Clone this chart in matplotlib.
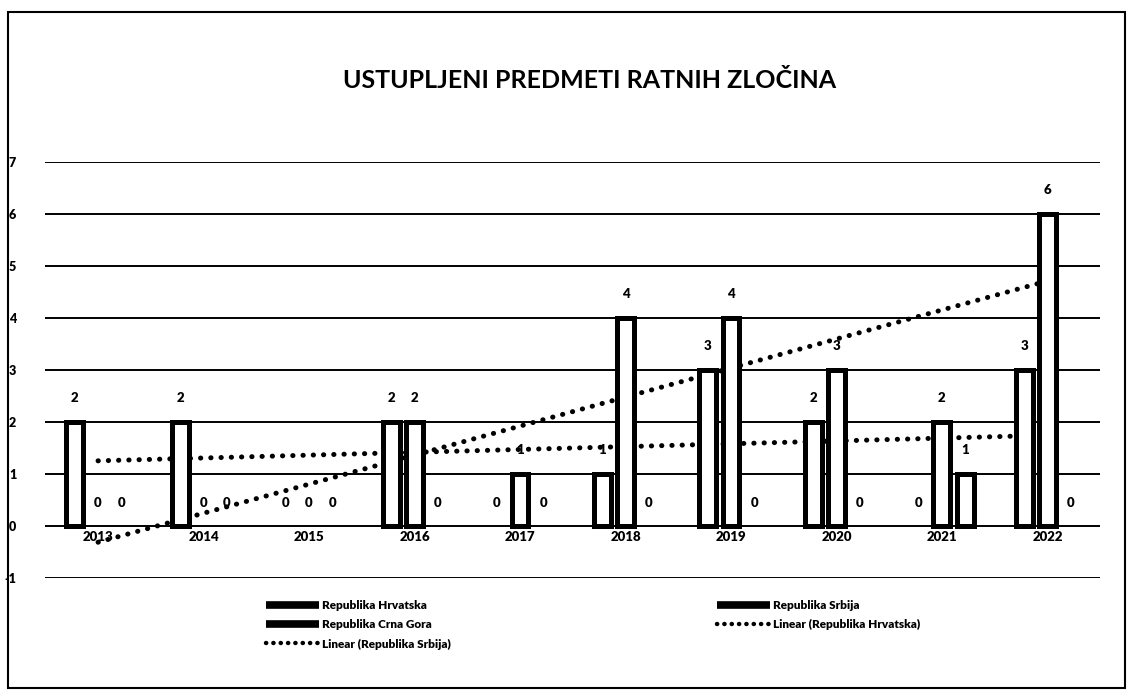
import matplotlib
matplotlib.use("Agg")
import matplotlib.pyplot as plt
import numpy as np
from matplotlib.lines import Line2D
from matplotlib.patches import Rectangle

years = ["2013", "2014", "2015", "2016", "2017", "2018", "2019", "2020", "2021", "2022"]
hrvatska = [2, 2, 0, 2, 0, 1, 3, 2, 0, 3]
srbija = [0, 0, 0, 2, 1, 4, 4, 3, 2, 6]
crna_gora = [0, 0, 0, 0, 0, 0, 0, 0, 1, 0]
series_names = ["Republika Hrvatska", "Republika Srbija", "Republika Crna Gora"]

plt.rcParams['font.family'] = ['Lato', 'DejaVu Sans']
plt.rcParams['font.weight'] = 'bold'

fig = plt.figure(figsize=(11.33, 7), dpi=100)
ax = fig.add_axes([0.040, 0.174, 0.931, 0.595])

x = np.arange(len(years))
offsets = [-0.22, 0.0, 0.22]
width = 0.16
for vals, off in zip([hrvatska, srbija, crna_gora], offsets):
    bars = ax.bar(x + off, vals, width=width, facecolor='white', edgecolor='black',
                  linewidth=3.6, zorder=3)
    for xi, v in zip(x + off, vals):
        ax.annotate(str(v), (xi, v), xytext=(0, 17), textcoords='offset points',
                    ha='center', va='center', fontsize=9.5, fontweight='heavy', zorder=4)
    for b, v in zip(bars, vals):
        if v == 0:
            b.set_visible(False)

# linear trends
dot_style = (0, (0.05, 2.0))
for vals in [hrvatska, srbija]:
    p = np.polyfit(x, vals, 1)
    ax.plot(x, np.polyval(p, x), color='black', linestyle=dot_style,
            linewidth=3.6, dash_capstyle='round', zorder=2)

ax.set_xlim(-0.5, 9.5)
ax.set_ylim(-1, 7)
ax.set_yticks(range(-1, 8))
ax.set_yticklabels([str(v) for v in range(-1, 8)], fontsize=9, fontweight='heavy')
ax.tick_params(axis='y', length=0, pad=21)
for yv in range(-1, 8):
    ax.axhline(yv, color='black', linewidth=1.4, zorder=1)
ax.set_xticks([])
for xi, yl in zip(x, years):
    ax.text(xi, -0.2, yl, ha='center', va='center', fontsize=9.5, fontweight='heavy')
for s in ax.spines.values():
    s.set_visible(False)

fig.text(0.52, 0.885, "USTUPLJENI PREDMETI RATNIH ZLOČINA", ha='center', va='center',
         fontsize=18, fontweight='bold')

bar_h = Line2D([], [], color='black', linewidth=5.5, solid_capstyle='butt')
lin_h = Line2D([], [], color='black', linewidth=3.2, linestyle=(0, (0.05, 1.6)),
               dash_capstyle='round')
handles = [bar_h, bar_h, lin_h, bar_h, lin_h]
labels = ["Republika Hrvatska", "Republika Crna Gora", "Linear (Republika Srbija)",
          "Republika Srbija", "Linear (Republika Hrvatska)"]
leg = fig.legend(handles, labels, loc='upper left', bbox_to_anchor=(0.225, 0.158),
                 ncol=2, frameon=False, fontsize=8.5, columnspacing=22.5,
                 handlelength=4.5, handletextpad=0.3, labelspacing=0.7)
for t in leg.get_texts():
    t.set_fontweight('heavy')

fig.patches.append(Rectangle((8 / 1133, 12 / 700), 1117 / 1133, 676 / 700,
                             transform=fig.transFigure, fill=False,
                             edgecolor='black', linewidth=1.5))

fig.savefig("out.png", dpi=100)
